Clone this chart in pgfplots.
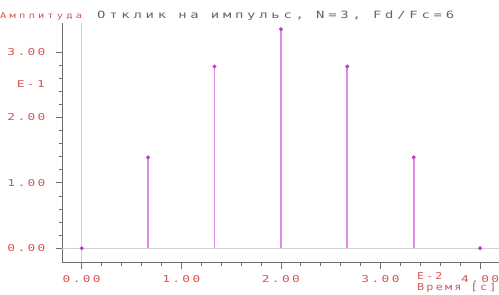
\documentclass[border=0pt]{standalone}
\usepackage{fontspec}
\usepackage{graphicx}
\usepackage{pgfplots}
\pgfplotsset{compat=1.18}
\newfontfamily\tickfont[FakeStretch=1.35,LetterSpace=25]{DejaVu Sans Mono}
\newfontfamily\titlefont[FakeStretch=1.3,LetterSpace=35]{DejaVu Sans Mono}
\newfontfamily\smallfont[FakeStretch=1.3,LetterSpace=40]{DejaVu Sans Mono}
\definecolor{lblred}{RGB}{214,84,84}
\definecolor{ttlgray}{RGB}{100,100,100}
\definecolor{stemc}{RGB}{222,140,230}
\definecolor{stemtop}{RGB}{190,60,200}
\definecolor{axgray}{RGB}{110,110,110}
\begin{document}
\begin{tikzpicture}
\path[use as bounding box] (0,0) rectangle (499pt,295pt);
\begin{axis}[
 at={(62.5pt,33pt)}, anchor=south west,
 scale only axis, width=436.5pt, height=238.7pt,
 xmin=-0.193, xmax=4.19, ymin=-0.21, ymax=3.44,
 axis x line*=bottom, axis y line*=left,
 axis line style={axgray, line width=0.8pt, -},
 tick align=outside, major tick length=7pt, minor tick length=4pt,
 tick style={axgray, line width=0.8pt},
 xtick={0,1,2,3,4}, xticklabels={0.00,1.00,2.00,3.00,4.00},
 ytick={0,1,2,3}, yticklabels={0.00,1.00,2.00,3.00},
 minor tick num=4,
 ticklabel style={font=\tickfont\fontsize{9.5}{10}\selectfont, text=lblred},
 xticklabel style={yshift=-3pt},
 yticklabel style={xshift=-6.5pt},
 clip=false,
]
\draw[gray!35, line width=0.8pt] (axis cs:0,-0.21) -- (axis cs:0,3.44);
\draw[gray!35, line width=0.8pt] (axis cs:-0.193,0) -- (axis cs:4.19,0);
\addplot[ycomb, stemc, line width=1.7pt, mark=*, mark size=1pt, mark options={stemtop, fill=stemtop}] coordinates {
(0,0) (0.6667,1.39) (1.3333,2.78) (2.0,3.35) (2.6667,2.78) (3.3333,1.39) (4.0,0)
};
\end{axis}
\node[anchor=base west, inner sep=0, text=lblred, font=\smallfont\fontsize{8}{9}\selectfont] at (0pt,276pt) {Амплитуда};
\node[anchor=base west, inner sep=0, text=ttlgray, font=\titlefont\fontsize{10}{11}\selectfont] at (97pt,276pt) {\scalebox{1.07}[1]{Отклик на импульс, N=3, Fd/Fc=6}};
\node[anchor=base east, inner sep=0, text=lblred, font=\tickfont\fontsize{9.5}{10}\selectfont] at (45pt,207pt) {E-1};
\node[anchor=base west, inner sep=0, text=lblred, font=\tickfont\fontsize{9.5}{10}\selectfont] at (417pt,15pt) {\scalebox{0.9}[1]{E-2}};
\node[anchor=base west, inner sep=0, text=lblred, font=\tickfont\fontsize{9.5}{10}\selectfont] at (417pt,4pt) {\scalebox{0.92}[1]{Время [c]}};
\end{tikzpicture}
\end{document}
